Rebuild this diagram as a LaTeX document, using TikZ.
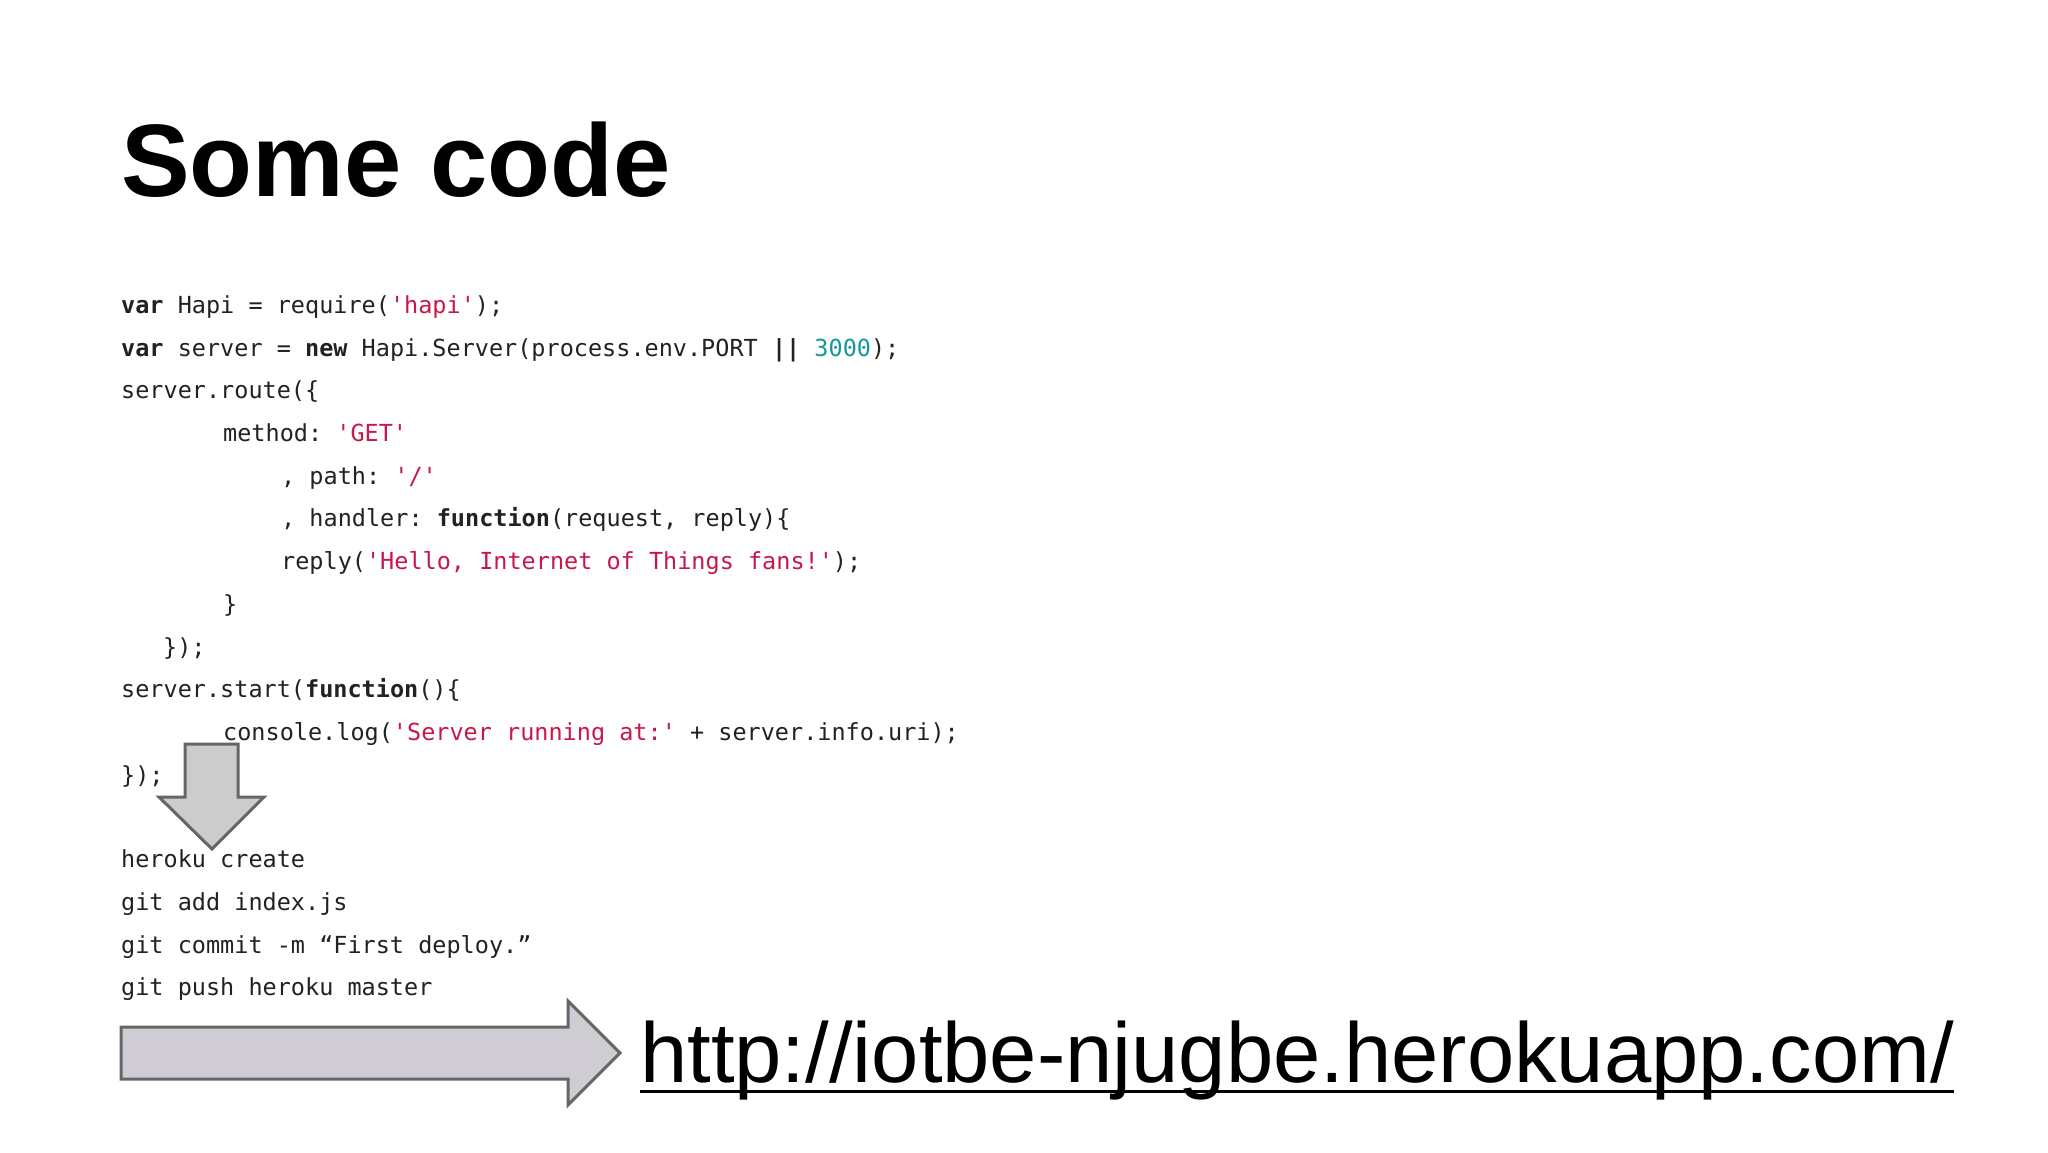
\documentclass[tikz,border=0pt]{standalone}
\usepackage{fontspec}
\setmainfont{Liberation Sans}
\setmonofont{DejaVu Sans Mono}
\definecolor{strc}{HTML}{C8184A}
\definecolor{numc}{HTML}{14999A}
\definecolor{codec}{HTML}{222222}
\definecolor{arrf}{HTML}{CFCDD3}
\newcommand{\kwd}[1]{\textbf{#1}}
\newcommand{\strg}[1]{\textcolor{strc}{#1}}
\newcommand{\numb}[1]{\textcolor{numc}{#1}}
\tikzset{code/.style={anchor=base west,inner sep=0pt,text=codec,font=\ttfamily\fontsize{23.5}{24}\selectfont},
arrowshape/.style={fill=black!20,draw=black!60,line width=3pt,line join=miter}}
\begin{document}
\begin{tikzpicture}[x=1pt,y=-1pt]
\useasboundingbox[fill=white] (0,0) rectangle (2048,1152);
\node[anchor=base west,inner sep=0pt,font=\bfseries\fontsize{103}{103}\selectfont] (title) at (121,196) {Some code};
\node[code] (l1) at (121,313) {\kwd{var} Hapi = require(\strg{'hapi'});};
\node[code] (l2) at (121,356) {\kwd{var} server = \kwd{new} Hapi.Server(process.env.PORT \kwd{||} \numb{3000});};
\node[code] (l3) at (121,398) {server.route(\{};
\node[code] (l4) at (223,441) {method: \strg{'GET'}};
\node[code] (l5) at (281,484) {, path: \strg{'/'}};
\node[code] (l6) at (281,526) {, handler: \kwd{function}(request, reply)\{};
\node[code] (l7) at (281,569) {reply(\strg{'Hello, Internet of Things fans!'});};
\node[code] (l8) at (223,612) {\}};
\node[code] (l9) at (163,655) {\});};
\node[code] (l10) at (121,697) {server.start(\kwd{function}()\{};
\node[code] (l11) at (223,740) {console.log(\strg{'Server running at:'} + server.info.uri);};
\node[code] (l12) at (121,783) {\});};
\node[code] (h1) at (121,867) {heroku create};
\node[code] (h2) at (121,910) {git add index.js};
\node[code] (h3) at (121,953) {git commit -m “First deploy.”};
\node[code] (h4) at (121,995) {git push heroku master};
\draw[arrowshape] (185,744) -- (238,744) -- (238,797) -- (264,797) -- (212,849) -- (159,797) -- (185,797) -- cycle;
\draw[arrowshape,fill=arrf] (121,1027) -- (568,1027) -- (568,1001) -- (620,1053) -- (568,1105) -- (568,1079) -- (121,1079) -- cycle;
\node[anchor=base west,inner sep=0pt,font=\fontsize{85}{85}\selectfont] (url) at (640,1082) {http://iotbe-njugbe.herokuapp.com/};
\draw[line width=3pt] (url.base west)++(0,9) -- ([yshift=-9pt]url.base east);
\end{tikzpicture}
\end{document}
